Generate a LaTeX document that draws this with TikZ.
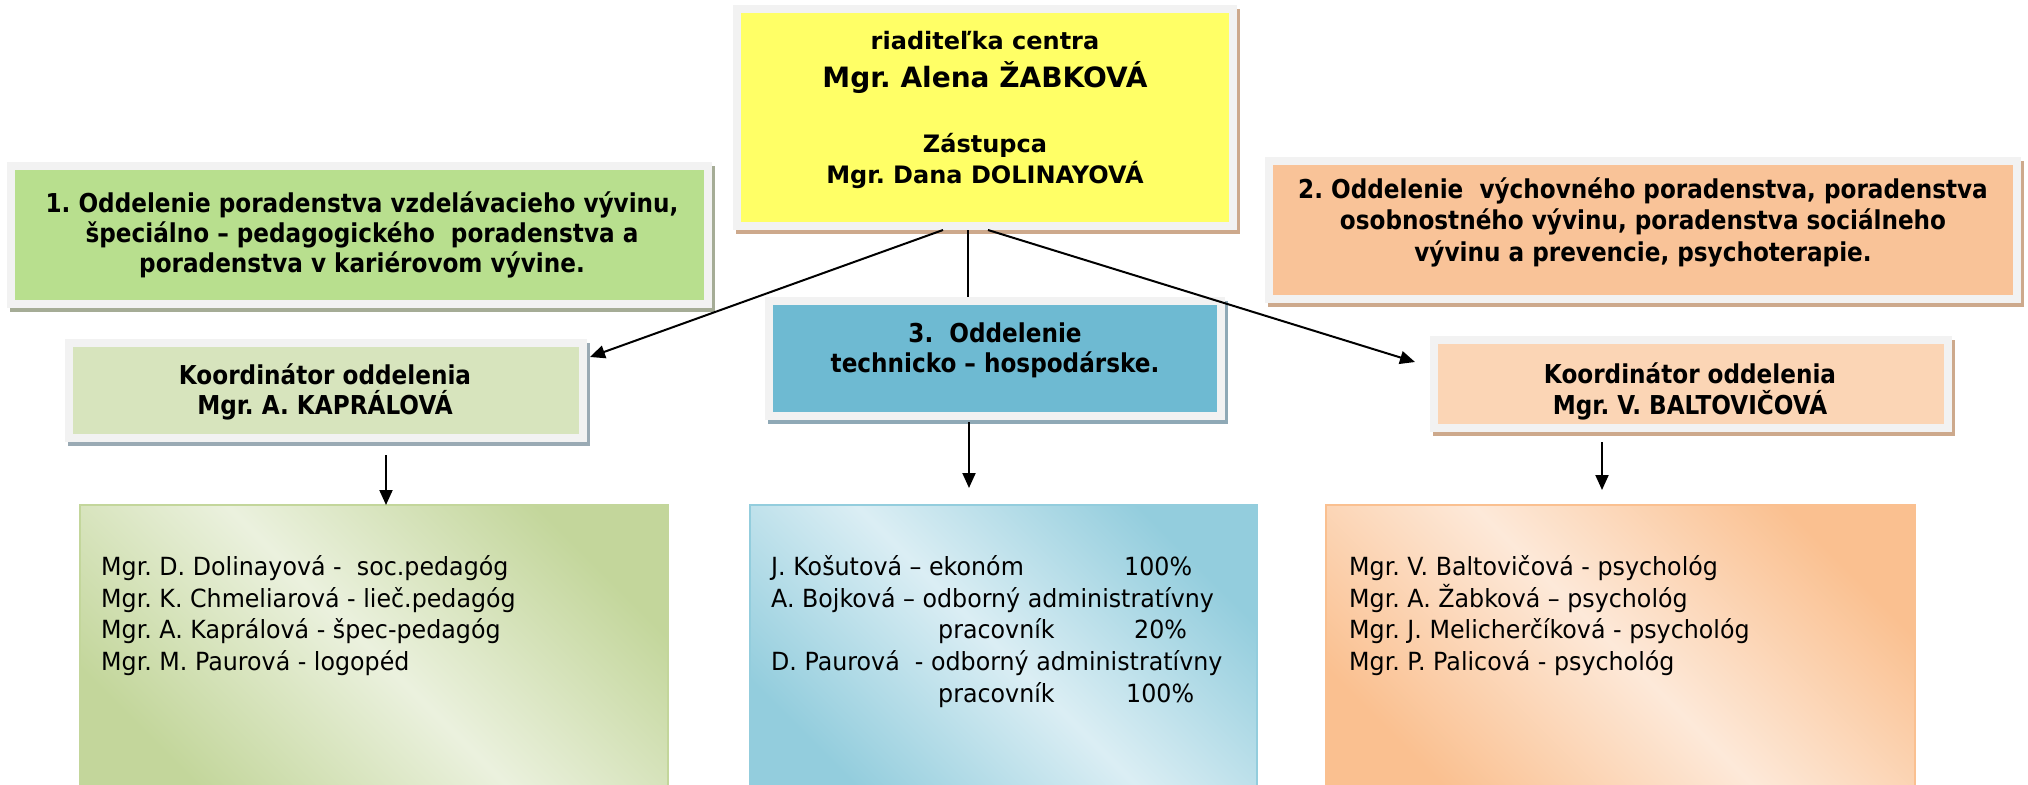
\documentclass[tikz,border=0pt]{standalone}
\usepackage{fontspec}
\setmainfont{DejaVu Sans}
\newfontfamily\hdfont{DejaVu Sans}[FakeStretch=0.89]
\newfontfamily\ttlfont{DejaVu Sans}
\newfontfamily\bodyfont{DejaVu Sans}[FakeStretch=0.95]
\usetikzlibrary{arrows.meta,calc}
\frenchspacing
\definecolor{frameG}{HTML}{F2F2F2}
\definecolor{tanS}{HTML}{CDA98C}
\definecolor{yellowF}{HTML}{FFFF66}
\definecolor{greenF}{HTML}{B8DF8E}
\definecolor{greenS}{HTML}{A5AC96}
\definecolor{orangeF}{HTML}{F9C398}
\definecolor{blueF}{HTML}{6EBAD2}
\definecolor{blueS}{HTML}{8FA9B6}
\definecolor{kgF}{HTML}{D7E4BD}
\definecolor{kgS}{HTML}{9AAAB4}
\definecolor{koF}{HTML}{FBD5B5}
\definecolor{gLight}{HTML}{EBF1DE}
\definecolor{gDark}{HTML}{C3D69B}
\definecolor{bLight}{HTML}{DBEEF4}
\definecolor{bDark}{HTML}{93CDDD}
\definecolor{oLight}{HTML}{FDE9D9}
\definecolor{oDark}{HTML}{FAC090}
\begin{document}
\frenchspacing
\begin{tikzpicture}[x=1pt,y=-1pt,
  panel/.style 2 args={draw=frameG, line width=8pt, fill=#1, inner sep=0pt, outer sep=4pt,
    preaction={fill=#2, draw=#2, line width=8pt, transform canvas={shift={(3pt,-4pt)}}}},
  listbox/.style n args={3}{draw=#3, line width=2pt, inner sep=0pt, outer sep=0pt,
    top color=#2, bottom color=#2, middle color=#1, shading angle=-45},
  ttl/.style={anchor=base, inner sep=0pt, font=\ttlfont\bfseries\fontsize{24}{29}\selectfont},
  ttlbig/.style={anchor=base, inner sep=0pt, font=\ttlfont\bfseries\fontsize{28}{33}\selectfont},
  hd/.style={anchor=base, inner sep=0pt, font=\hdfont\bfseries\fontsize{26}{30}\selectfont},
  body/.style={anchor=base west, inner sep=0pt, font=\bodyfont\fontsize{25}{30}\selectfont},
  conn/.style={line width=2pt, draw=black},
  arrowed/.style={-{Triangle[length=15pt,width=13pt]}}
]
\useasboundingbox (0,0) rectangle (2028,784);
\clip (0,0) rectangle (2028,784);
\fill[white] (0,0) rectangle (2028,784);

% top level panels
\node[panel={yellowF}{tanS}, minimum width=496pt, minimum height=217pt] (Y) at (985,117.5) {};
\node[panel={greenF}{greenS}, minimum width=697pt, minimum height=138pt] (G1) at (359.5,235) {};
\node[panel={orangeF}{tanS}, minimum width=748pt, minimum height=138pt] (O2) at (1643,230) {};
\node[panel={blueF}{blueS}, minimum width=452pt, minimum height=115pt] (B3) at (995,358.5) {};
\node[panel={kgF}{kgS}, minimum width=514pt, minimum height=95pt] (KG) at (326,390.5) {};
\node[panel={koF}{tanS}, minimum width=514pt, minimum height=88pt] (KO) at (1691,384) {};

% bottom list boxes
\node[listbox={gLight}{gDark}{gDark}, minimum width=588pt, minimum height=295pt] (GB) at (374,652.5) {};
\node[listbox={bLight}{bDark}{bDark}, minimum width=507pt, minimum height=295pt] (BB) at (1003.5,652.5) {};
\node[listbox={oLight}{oDark}{oDark}, minimum width=589pt, minimum height=295pt] (OB) at (1620.5,652.5) {};

% yellow texts
\node[ttl] (y1) at (985,49) {riaditeľka centra};
\node[ttlbig] (y2) at (985,87) {Mgr. Alena ŽABKOVÁ};
\node[ttl] (y3) at (985,152) {Zástupca};
\node[ttl] (y4) at (985,183) {Mgr. Dana DOLINAYOVÁ};

% department 1
\node[hd] (g1a) at (362,212) {1. Oddelenie poradenstva vzdelávacieho vývinu,};
\node[hd] (g1b) at (362,242) {špeciálno – pedagogického\ \ poradenstva a};
\node[hd] (g1c) at (362,272) {poradenstva v kariérovom vývine.};

% department 2
\node[hd] (o2a) at (1643,198) {2. Oddelenie\ \ výchovného poradenstva, poradenstva};
\node[hd] (o2b) at (1643,229) {osobnostného vývinu, poradenstva sociálneho};
\node[hd] (o2c) at (1643,261) {vývinu a prevencie, psychoterapie.};

% department 3
\node[hd] (b3a) at (995,342) {3.\ \ Oddelenie};
\node[hd] (b3b) at (995,372) {technicko – hospodárske.};

% coordinators
\node[hd] (kga) at (325,384) {Koordinátor oddelenia};
\node[hd] (kgb) at (325,414) {Mgr. A. KAPRÁLOVÁ};
\node[hd] (koa) at (1690,383) {Koordinátor oddelenia};
\node[hd] (kob) at (1690,414) {Mgr. V. BALTOVIČOVÁ};

% green list
\node[body] (gl1) at (101,575) {Mgr. D. Dolinayová -\ \ soc.pedagóg};
\node[body] (gl2) at (101,607) {Mgr. K. Chmeliarová - lieč.pedagóg};
\node[body] (gl3) at (101,638) {Mgr. A. Kaprálová - špec-pedagóg};
\node[body] (gl4) at (101,670) {Mgr. M. Paurová - logopéd};

% blue list
\node[body] (bl1) at (771,575) {\makebox[353pt][l]{J. Košutová – ekonóm}100\%};
\node[body] (bl2) at (771,607) {A. Bojková – odborný administratívny};
\node[body] (bl3) at (771,638) {\hspace*{167pt}\makebox[196pt][l]{pracovník}20\%};
\node[body] (bl4) at (771,670) {D. Paurová\ \ - odborný administratívny};
\node[body] (bl5) at (771,702) {\hspace*{167pt}\makebox[188pt][l]{pracovník}100\%};

% orange list
\node[body] (ol1) at (1349,575) {Mgr. V. Baltovičová - psychológ};
\node[body] (ol2) at (1349,607) {Mgr. A. Žabková – psychológ};
\node[body] (ol3) at (1349,638) {Mgr. J. Melicherčíková - psychológ};
\node[body] (ol4) at (1349,670) {Mgr. P. Palicová - psychológ};

% connectors
\draw[conn,arrowed] ($(Y.south)+(-42,0)$) -- ($(KG.north east)+(3,18)$);
\draw[conn] ($(Y.south)+(-17,0)$) -- ($(B3.north)+(-27,0)$);
\draw[conn,arrowed] ($(Y.south)+(3,0)$) -- ($(KO.north west)+(-15,26)$);
\draw[conn,arrowed] ($(B3.south)+(-26,2)$) -- ($(BB.north)+(-34.5,-17)$);
\draw[conn,arrowed] ($(KG.south)+(60,13)$) -- ($(GB.north)+(12,0)$);
\draw[conn,arrowed] ($(KO.south)+(-89,10)$) -- ($(OB.north)+(-18.5,-15)$);
\end{tikzpicture}
\end{document}
